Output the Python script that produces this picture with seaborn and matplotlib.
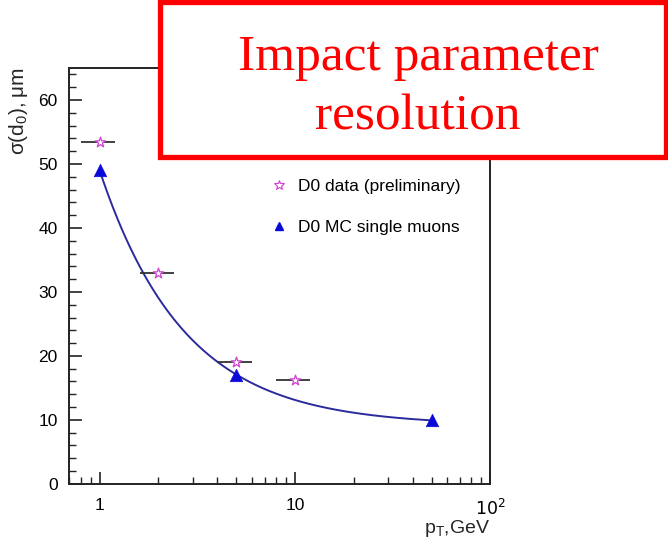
import numpy as np
import pandas as pd
import matplotlib
matplotlib.use("Agg")
import matplotlib.pyplot as plt
import seaborn as sns
from matplotlib.patches import Rectangle
from matplotlib.lines import Line2D
from matplotlib.ticker import FixedLocator, NullFormatter, MultipleLocator

# ---- data ----
data_pt = [1, 2, 5, 10]
data_sigma = [53.5, 33.0, 19.0, 16.2]
data_xerr_lo = [0.2, 0.4, 1.0, 2.0]
data_xerr_hi = [0.2, 0.4, 1.0, 2.0]

mc_pt = [1, 5, 50]
mc_sigma = [49.0, 17.0, 10.0]

x_ticks = [1, 10, 100]
x_ticklabels = ["1", "10", "$10^2$"]
y_ticks = [0, 10, 20, 30, 40, 50, 60]

label_data = "D0 data (preliminary)"
label_mc = "D0 MC single muons"
title_text = "Impact parameter\nresolution"

sns.set_theme(style="ticks")
plt.rcParams['font.family'] = ['Liberation Sans', 'DejaVu Sans']

fig = plt.figure(figsize=(6.68, 5.40), dpi=100)
ax = fig.add_axes([0.103, 0.104, 0.631, 0.770])

# fit curve a + b/x through MC points
inv = 1.0 / np.array(mc_pt, dtype=float)
b, a = np.polyfit(inv, np.array(mc_sigma), 1)
xs = np.geomspace(min(mc_pt), max(mc_pt), 300)
fit_df = pd.DataFrame({"pt": xs, "sigma": a + b / xs})
sns.lineplot(data=fit_df, x="pt", y="sigma", ax=ax, color="#2b2b9e", lw=1.4, zorder=2)

# data error bars
ax.errorbar(data_pt, data_sigma, xerr=[data_xerr_lo, data_xerr_hi], fmt="none",
            ecolor="#333333", elinewidth=1.3, capsize=0, zorder=3)

data_df = pd.DataFrame({"pt": data_pt, "sigma": data_sigma})
mc_df = pd.DataFrame({"pt": mc_pt, "sigma": mc_sigma})
sns.scatterplot(data=data_df, x="pt", y="sigma", ax=ax, marker="*", s=60,
                facecolor="white", edgecolor="#d040d0", linewidth=0.9, zorder=4)
sns.scatterplot(data=mc_df, x="pt", y="sigma", ax=ax, marker="^", s=80,
                color="#0a0ad8", edgecolor="#0a0ad8", linewidth=0.5, zorder=5)

ax.set_xscale("log")
ax.set_xlim(0.695, 100)
ax.set_ylim(0, 65)
ax.xaxis.set_major_locator(FixedLocator(x_ticks))
ax.set_xticklabels(x_ticklabels)
minor = [m * d for d in (0.1, 1, 10) for m in range(2, 10)]
ax.xaxis.set_minor_locator(FixedLocator([v for v in minor if 0.695 < v < 100]))
ax.xaxis.set_minor_formatter(NullFormatter())
ax.set_yticks(y_ticks)
ax.yaxis.set_minor_locator(MultipleLocator(2))
ax.tick_params(which="both", direction="in", top=False, right=False,
               colors="#222222", labelcolor="black")
ax.tick_params(which="major", length=9, width=1.2, labelsize=12.5)
ax.tick_params(axis="x", which="major", pad=10)
ax.tick_params(axis="y", which="major", pad=8)
ax.tick_params(which="minor", length=5, width=1.0)
for sp in ax.spines.values():
    sp.set_color("#222222")
    sp.set_linewidth(1.4)

ax.set_xlabel(r"$\mathregular{p_T}$,GeV", fontsize=14, loc="right", labelpad=0)
ax.set_ylabel(r"$\mathregular{\sigma(d_0),\mu m}$", fontsize=15, loc="top", labelpad=6)

handles = [
    Line2D([], [], marker="*", ls="none", markersize=7, markerfacecolor="white",
           markeredgecolor="#d040d0", markeredgewidth=0.8),
    Line2D([], [], marker="^", ls="none", markersize=6, markerfacecolor="#0a0ad8",
           markeredgecolor="#0a0ad8"),
]
leg = ax.legend(handles, [label_data, label_mc], loc="upper left",
                bbox_to_anchor=(0.44, 0.77), frameon=False, fontsize=12.5,
                labelspacing=1.45, handletextpad=0.5, handlelength=1.1)
for t in leg.get_texts():
    t.set_color("black")

# red title box
rect = Rectangle((0.2395, 0.709), 0.757, 0.287, transform=fig.transFigure,
                 facecolor="white", edgecolor="#ff0000", linewidth=3.8, zorder=10)
fig.patches.append(rect)
fig.text(0.626, 0.838, title_text, transform=fig.transFigure, ha="center", va="center",
         color="#ff0000", fontsize=37, family=["Liberation Serif", "DejaVu Serif"],
         linespacing=1.38, zorder=11)

fig.savefig("out.png", dpi=100)
